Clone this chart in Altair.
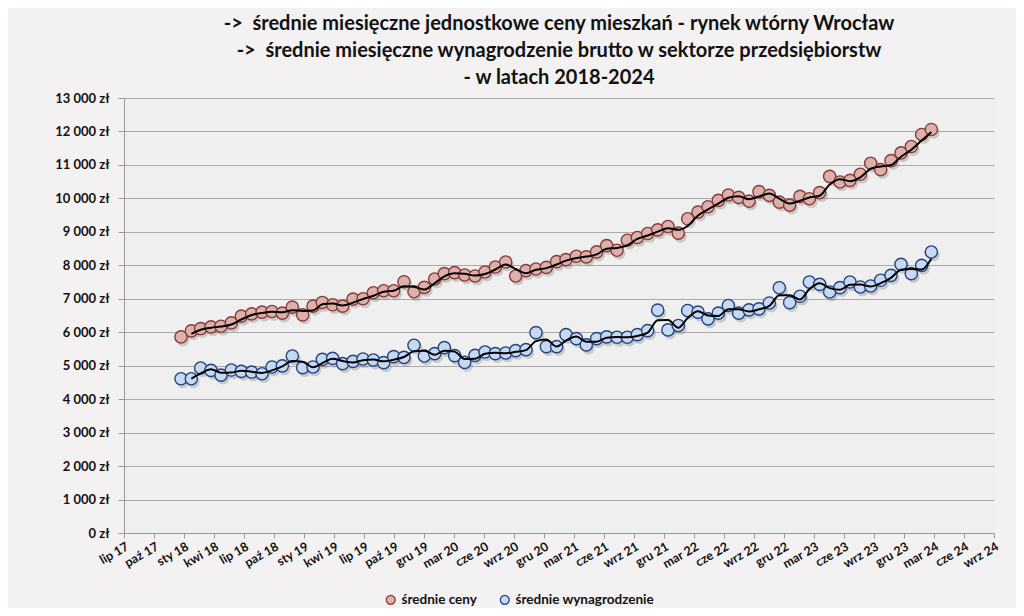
import json
import altair as alt
import pandas as pd

# ---------------- data ----------------
series_names = ["średnie ceny", "średnie wynagrodzenie"]

ceny = [
    5860, 6040, 6110, 6160, 6180, 6280, 6480, 6550, 6600, 6620, 6570, 6750,
    6520, 6780, 6890, 6820, 6780, 6990, 7000, 7180, 7240, 7240, 7510, 7210,
    7340, 7590, 7750, 7780, 7710, 7680, 7800, 7950, 8100, 7680, 7840, 7890,
    7940, 8110, 8170, 8270, 8250, 8400, 8590, 8450, 8750, 8830, 8950, 9060,
    9160, 8960, 9390, 9590, 9750, 9940, 10100, 10030, 9920, 10200, 10090, 9890,
    9800, 10060, 9990, 10170, 10660, 10490, 10540, 10720, 11050, 10860, 11130, 11360,
    11550, 11910, 12060,
]

wynagrodzenie = [
    4610, 4610, 4930, 4860, 4720, 4870, 4830, 4810, 4760, 4960, 4995, 5290,
    4940, 4960, 5190, 5220, 5060, 5130, 5200, 5170, 5090, 5270, 5250, 5610,
    5290, 5360, 5540, 5300, 5100, 5310, 5410, 5360, 5380, 5450, 5480, 5990,
    5570, 5570, 5930, 5810, 5620, 5810, 5860, 5850, 5850, 5930, 6050, 6660,
    6070, 6200, 6650, 6600, 6400, 6570, 6800, 6570, 6670, 6700, 6875, 7330,
    6884, 7074, 7502, 7432, 7203, 7333, 7502, 7353, 7382, 7552, 7701, 8030,
    7751, 8000, 8398,
]

first_month = "2018-01-01"
axis_start = "2017-07-14"
tick_step_days = 90
tick_labels = [
    "lip 17", "paź 17", "sty 18", "kwi 18", "lip 18", "paź 18", "sty 19", "kwi 19",
    "lip 19", "paź 19", "gru 19", "mar 20", "cze 20", "wrz 20", "gru 20", "mar 21",
    "cze 21", "wrz 21", "gru 21", "mar 22", "cze 22", "wrz 22", "gru 22", "mar 23",
    "cze 23", "wrz 23", "gru 23", "mar 24", "cze 24", "wrz 24",
]
y_ticks = list(range(0, 13001, 1000))

NB = "\u00a0"
title_lines = [
    NB * 9 + "->" + NB * 2 + "średnie miesięczne jednostkowe ceny mieszkań - rynek wtórny Wrocław",
    "->" + NB * 2 + "średnie miesięczne wynagrodzenie brutto w sektorze przedsiębiorstw" + NB * 7,
    "- w latach 2018-2024",
]

# ---------------- table ----------------
months = pd.date_range(first_month, periods=len(ceny), freq="MS")
start = pd.Timestamp(axis_start)
days = [(m - start).days for m in months]

rows = []
for name, vals in zip(series_names, [ceny, wynagrodzenie]):
    for d, v in zip(days, vals):
        rows.append({"series": name, "day": d, "value": v})
df = pd.DataFrame(rows)

tick_values = [i * tick_step_days for i in range(len(tick_labels))]
x_max = tick_values[-1]

FONT = "Lato"
TXT = "#111111"

x_enc = alt.X(
    "day:Q",
    scale=alt.Scale(domain=[0, x_max], nice=False, zero=False),
    axis=alt.Axis(
        values=tick_values,
        labelExpr=f"{json.dumps(tick_labels, ensure_ascii=False)}[round(datum.value / {tick_step_days})]",
        title=None,
        grid=False,
        labelAngle=330,
        labelAlign="right",
        labelBaseline="top",
        labelPadding=2,
        labelFont=FONT,
        labelFontSize=12.5,
        labelFontWeight="bold",
        labelColor=TXT,
        tickSize=5,
        tickColor="#9a9a9a",
        domainColor="#9a9a9a",
        labelOverlap=False,
        labelBound=False,
        labelFlush=False,
    ),
)
y_enc = alt.Y(
    "value:Q",
    scale=alt.Scale(domain=[0, 13000], nice=False),
    axis=alt.Axis(
        values=y_ticks,
        tickCount=14,
        labelExpr="replace(format(datum.value, ','), ',', ' ') + ' zł'",
        title=None,
        grid=True,
        gridColor="#ababab",
        gridWidth=1,
        tickSize=6,
        tickColor="#9a9a9a",
        domainColor="#9a9a9a",
        labelPadding=9,
        labelFont=FONT,
        labelFontSize=13,
        labelFontWeight="bold",
        labelColor=TXT,
        labelOverlap=False,
        labelBound=False,
        labelFlush=False,
    ),
)

fill_scale = alt.Scale(domain=series_names, range=["#dcb0ab", "#c6d9f1"])
stroke_scale = alt.Scale(domain=series_names, range=["#8a3b37", "#24427f"])
legend = alt.Legend(
    title=None,
    orient="none",
    legendX=260,
    legendY=495,
    direction="horizontal",
    labelFont=FONT,
    labelFontSize=13.5,
    labelFontWeight="bold",
    labelColor=TXT,
    symbolType="circle",
    symbolSize=80,
    symbolStrokeWidth=1.3,
    columnPadding=20,
)

base = alt.Chart(df)

shadow = base.mark_circle(
    color="#6f6f6f", opacity=0.3, size=160, xOffset=2, yOffset=3
).encode(x=x_enc, y=y_enc)

points = base.mark_circle(size=150, strokeWidth=1.4, opacity=1).encode(
    x=x_enc,
    y=y_enc,
    fill=alt.Fill("series:N", scale=fill_scale, legend=legend),
    stroke=alt.Stroke("series:N", scale=stroke_scale, legend=legend),
)

trend = (
    base.transform_window(
        ma="mean(value)",
        rn="row_number()",
        frame=[-1, 0],
        groupby=["series"],
        sort=[alt.SortField("day")],
    )
    .transform_filter("datum.rn > 1")
    .mark_line(color="black", strokeWidth=2, interpolate="monotone")
    .encode(x=x_enc, y=alt.Y("ma:Q"), detail="series:N")
)

chart = (
    alt.layer(shadow, points, trend)
    .properties(
        width=870,
        height=435,
        autosize=alt.AutoSizeParams(type="none"),
        padding={"left": 116, "top": 90, "right": 22, "bottom": 75},
        background="#f3f1f1",
        title=alt.TitleParams(
            text=title_lines,
            font=FONT,
            fontSize=20,
            fontWeight="bold",
            lineHeight=27,
            anchor="middle",
            offset=4,
            color=TXT,
        ),
    )
    .configure_view(fill="#efefef", stroke="transparent")
)

chart.save("out.html", embed_options={"renderer": "svg", "actions": False})
